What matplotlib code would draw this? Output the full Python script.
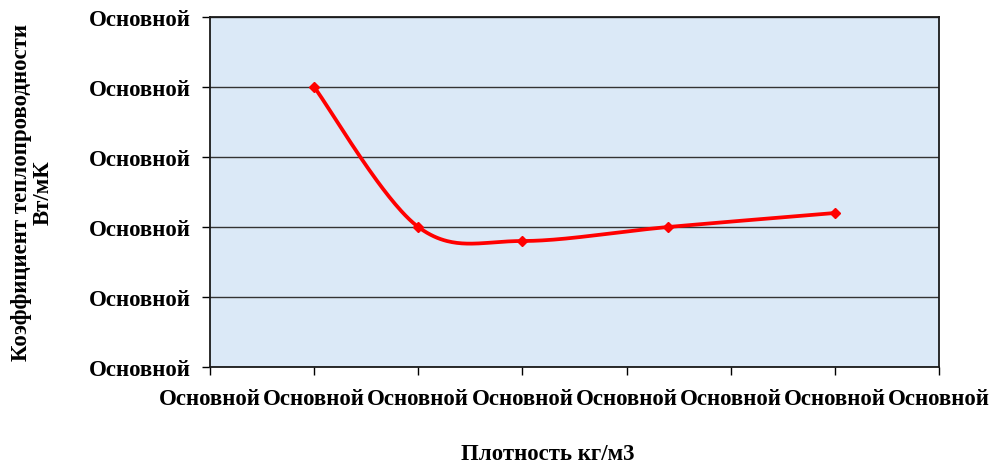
import numpy as np
import matplotlib.pyplot as plt

# --------------
# Data (axis numbers are hidden by the "Основной" format)
# --------------
density = [1.0, 2.0, 3.0, 4.4, 6.0]
conductivity = [4.0, 2.0, 1.8, 2.0, 2.2]
x_ticks = [0, 1, 2, 3, 4, 5, 6, 7]
y_ticks = [0, 1, 2, 3, 4, 5]
tick_text = "Основной"


# --------------
# Excel-like smoothed line (Catmull-Rom as cubic Bezier)
# --------------
def smooth(xs, ys, n=60):
    p = np.column_stack([xs, ys]).astype(float)
    p = np.vstack([p[0], p, p[-1]])
    out = []
    t = np.linspace(0, 1, n)[:, None]
    for i in range(1, len(p) - 2):
        p0, p3 = p[i], p[i + 1]
        c1 = p0 + (p[i + 1] - p[i - 1]) / 6
        c2 = p3 - (p[i + 2] - p[i]) / 6
        seg = ((1 - t) ** 3) * p0 + 3 * ((1 - t) ** 2) * t * c1 \
            + 3 * (1 - t) * t ** 2 * c2 + t ** 3 * p3
        out.append(seg)
    out = np.vstack(out)
    return out[:, 0], out[:, 1]


plt.rcParams['font.family'] = ['Liberation Serif', 'DejaVu Serif']
plt.rcParams['font.weight'] = 'bold'
fs = 16.5

fig = plt.figure(figsize=(9.92, 4.64), dpi=100)
ax = fig.add_axes([210 / 992, 1 - 368 / 464, 729 / 992, 350 / 464])
ax.set_facecolor('#dbe9f7')

sx, sy = smooth(density, conductivity)
ax.plot(sx, sy, color='#ff0000', lw=2.7, solid_capstyle='round', zorder=3)
ax.plot(density, conductivity, linestyle='none', marker='D', ms=5.5,
        color='#ff0000', zorder=4)

ax.set_xlim(x_ticks[0], x_ticks[-1])
ax.set_ylim(y_ticks[0], y_ticks[-1])
ax.set_xticks(x_ticks)
ax.set_yticks(y_ticks)
ax.set_xticklabels([tick_text] * len(x_ticks), fontsize=fs, fontweight='bold')
ax.set_yticklabels([tick_text] * len(y_ticks), fontsize=fs, fontweight='bold')
ax.tick_params(axis='both', direction='out', length=6, width=1, color='black', pad=8)
ax.tick_params(axis='x', pad=9)
ax.grid(axis='y', color='#333333', lw=1)
ax.set_axisbelow(True)
for side in ax.spines.values():
    side.set_color('#1a1a1a')
    side.set_linewidth(1.3)

fig.text(548 / 992, 1 - 455 / 464, "Плотность кг/м3", ha='center', va='center',
         fontsize=fs, fontweight='bold')
fig.text(32 / 992, 1 - 193 / 464, "Коэффициент теплопроводности\nВт/мК",
         ha='center', va='center', rotation=90, fontsize=fs, fontweight='bold',
         linespacing=1.05)

plt.savefig("out.png", dpi=100)
